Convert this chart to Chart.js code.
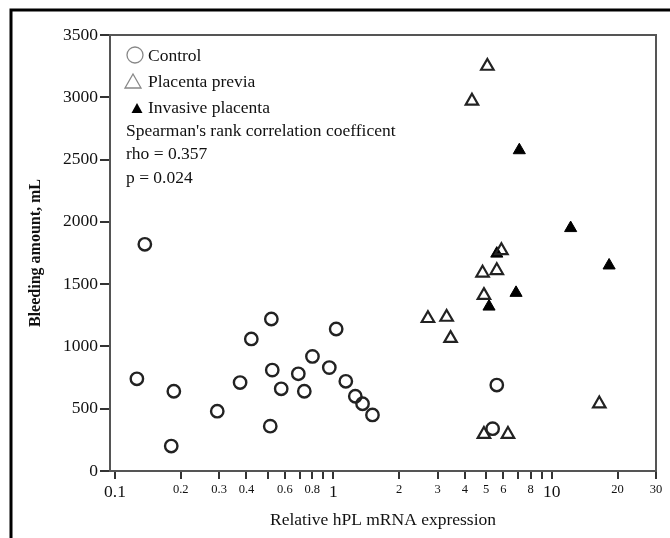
<!DOCTYPE html>
<html>
<head>
<meta charset="utf-8">
<script src="https://cdn.jsdelivr.net/npm/chart.js@4/dist/chart.umd.min.js"></script>
<style>
html,body{margin:0;padding:0;background:#fff;}
#wrap{width:670px;height:538px;position:relative;}
</style>
</head>
<body>
<div id="wrap"><canvas id="c" width="670" height="538"></canvas></div>
<script>
// ---- data ----
const controlX = [0.137, 0.126, 0.186, 0.181, 0.294, 0.374, 0.421, 0.520, 0.525, 0.514, 0.577, 0.691, 0.736, 0.802, 0.958, 1.03, 1.14, 1.26, 1.36, 1.51, 5.6, 5.36];
const controlY = [1820, 740, 640, 200, 480, 710, 1060, 1220, 810, 360, 660, 780, 640, 920, 830, 1140, 720, 600, 540, 450, 690, 340];

const previaX = [5.07, 4.31, 5.88, 4.82, 5.6, 4.89, 2.71, 3.30, 3.44, 16.5, 4.89, 6.3];
const previaY = [3250, 2970, 1770, 1590, 1610, 1410, 1225, 1235, 1065, 540, 295, 295];

const invasiveX = [7.1, 12.2, 5.6, 18.3, 6.86, 5.16];
const invasiveY = [2575, 1950, 1745, 1650, 1430, 1320];

const xTickValues = [0.1, 0.2, 0.3, 0.4, 0.5, 0.6, 0.7, 0.8, 0.9, 1, 2, 3, 4, 5, 6, 7, 8, 9, 10, 20, 30];
const xTickLabels = ['0.1', '0.2', '0.3', '0.4', '', '0.6', '', '0.8', '', '1', '2', '3', '4', '5', '6', '', '8', '', '10', '20', '30'];
const xBigLabels = ['0.1', '1', '10'];

const yMin = 0, yMax = 3500, yStep = 500;

const legendLabels = ['Control', 'Placenta previa', 'Invasive placenta'];
const noteLines = ["Spearman's rank correlation coefficent", 'rho = 0.357', 'p = 0.024'];

const xTitle = 'Relative hPL mRNA expression';
const yTitle = 'Bleeding amount, mL';

// ---- chart ----
const SERIF = '"Liberation Serif", "Times New Roman", serif';
const toPts = (xs, ys) => xs.map((x, i) => ({x: x, y: ys[i]}));

const framePlugin = {
  id: 'frame',
  beforeDraw(chart) {
    const ctx = chart.ctx;
    ctx.save();
    ctx.fillStyle = '#fff';
    ctx.fillRect(0, 0, chart.width, chart.height);
    ctx.restore();
  },
  afterDraw(chart) {
    const ctx = chart.ctx;
    const a = chart.chartArea;
    ctx.save();
    // plot box
    ctx.strokeStyle = '#555';
    ctx.lineWidth = 2;
    ctx.strokeRect(a.left, a.top, a.right - a.left, a.bottom - a.top);
    // outer frame (top and left)
    ctx.strokeStyle = '#000';
    ctx.lineWidth = 3;
    ctx.beginPath();
    ctx.moveTo(11, chart.height);
    ctx.lineTo(11, 10);
    ctx.lineTo(chart.width, 10);
    ctx.stroke();

    // legend
    const lx = a.left;
    const ty = a.top;
    // circle
    ctx.strokeStyle = '#888';
    ctx.lineWidth = 1.3;
    ctx.beginPath();
    ctx.arc(lx + 25, ty + 20, 8, 0, Math.PI * 2);
    ctx.stroke();
    // open triangle
    ctx.beginPath();
    ctx.moveTo(lx + 23, ty + 39);
    ctx.lineTo(lx + 31, ty + 53);
    ctx.lineTo(lx + 15, ty + 53);
    ctx.closePath();
    ctx.stroke();
    // filled triangle
    ctx.fillStyle = '#000';
    ctx.beginPath();
    ctx.moveTo(lx + 27, ty + 68);
    ctx.lineTo(lx + 32.5, ty + 78);
    ctx.lineTo(lx + 21.5, ty + 78);
    ctx.closePath();
    ctx.fill();

    ctx.fillStyle = '#111';
    ctx.font = '17.5px ' + SERIF;
    ctx.textBaseline = 'middle';
    ctx.textAlign = 'left';
    const legY = [21, 47, 73];
    legendLabels.forEach((t, i) => ctx.fillText(t, lx + 38, ty + legY[i]));
    const noteY = [96, 119, 143];
    noteLines.forEach((t, i) => ctx.fillText(t, lx + 16, ty + noteY[i]));
    ctx.restore();
  }
};

const ctx = document.getElementById('c').getContext('2d');
new Chart(ctx, {
  type: 'scatter',
  data: {
    datasets: [
      {
        label: legendLabels[0],
        data: toPts(controlX, controlY),
        pointStyle: 'circle',
        pointRadius: 6.2,
        borderWidth: 2.4,
        borderColor: '#222',
        backgroundColor: 'rgba(0,0,0,0)'
      },
      {
        label: legendLabels[1],
        data: toPts(previaX, previaY),
        pointStyle: 'triangle',
        pointRadius: 7.2,
        borderWidth: 2.2,
        borderColor: '#222',
        backgroundColor: 'rgba(0,0,0,0)'
      },
      {
        label: legendLabels[2],
        data: toPts(invasiveX, invasiveY),
        pointStyle: 'triangle',
        pointRadius: 7,
        borderWidth: 1,
        borderColor: '#000',
        backgroundColor: '#000'
      }
    ]
  },
  options: {
    responsive: false,
    animation: false,
    devicePixelRatio: 1,
    layout: {padding: {left: 0, top: 35, right: 14, bottom: 0}},
    plugins: {legend: {display: false}, tooltip: {enabled: false}},
    scales: {
      x: {
        type: 'logarithmic',
        min: 0.0949,
        max: 30,
        afterBuildTicks: (scale) => { scale.ticks = xTickValues.map(v => ({value: v})); },
        afterFit: (scale) => { scale.height = 67; },
        grid: {drawOnChartArea: false, drawTicks: true, tickLength: 8, color: '#333', lineWidth: 2},
        border: {display: true, color: '#444', width: 2},
        ticks: {
          autoSkip: false,
          maxRotation: 0,
          minRotation: 0,
          padding: 3,
          color: '#111',
          callback: (v, i) => xTickLabels[i],
          font: (c) => {
            const lab = c.tick ? xTickLabels[xTickValues.indexOf(c.tick.value)] : '';
            return xBigLabels.includes(lab) ? {family: SERIF, size: 17.5} : {family: SERIF, size: 12.5};
          }
        },
        title: {
          display: true,
          text: xTitle,
          color: '#111',
          font: {family: SERIF, size: 17.5},
          padding: {top: 0, bottom: 7}
        }
      },
      y: {
        type: 'linear',
        min: yMin,
        max: yMax,
        afterFit: (scale) => { scale.width = 110; },
        grid: {drawOnChartArea: false, drawTicks: true, tickLength: 10, color: '#333', lineWidth: 2},
        border: {display: true, color: '#444', width: 2},
        ticks: {
          stepSize: yStep,
          padding: 2,
          color: '#111',
          font: {family: SERIF, size: 17.5},
          callback: (v) => String(v)
        },
        title: {
          display: true,
          text: yTitle,
          color: '#111',
          font: {family: SERIF, size: 16, weight: 'bold'},
          padding: {top: 26, bottom: 0}
        }
      }
    }
  },
  plugins: [framePlugin]
});
</script>
</body>
</html>
